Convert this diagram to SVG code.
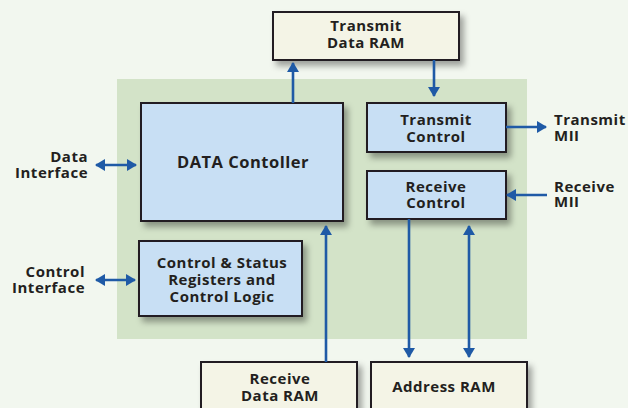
<svg xmlns="http://www.w3.org/2000/svg" width="628" height="408" viewBox="0 0 628 408">
<defs>
<style>
.bg{fill:#f2f7ef}
.panel{fill:#d3e3c8}
.blk{fill:#c8dff4;stroke:#231f20;stroke-width:2}
.ram{fill:#f4f4e6;stroke:#231f20;stroke-width:2}
.t{font-family:"Open Sans","Liberation Sans",sans-serif;font-weight:700;font-size:15px;fill:#231f20;letter-spacing:0.5px}
.c{text-anchor:middle}
.r{text-anchor:end}
.ln{stroke:#1f5aa6;stroke-width:2.6;fill:none}
.one{marker-end:url(#ah)}
.two{marker-end:url(#ah);marker-start:url(#ah)}
</style>
<marker id="ah" markerUnits="userSpaceOnUse" viewBox="0 0 10 12" refX="9" refY="6" markerWidth="10" markerHeight="12" orient="auto-start-reverse">
<path d="M0,0 L10,6 L0,12 z" fill="#1f5aa6"/>
</marker>
<filter id="sh" x="-10%" y="-10%" width="130%" height="140%">
<feDropShadow dx="4" dy="5" stdDeviation="3" flood-color="#000" flood-opacity="0.35"/>
</filter>
</defs>
<rect class="bg" x="0" y="0" width="628" height="408"/>
<rect class="panel" x="117" y="79" width="410" height="260"/>

<g id="transmit-data-ram">
<rect class="ram" x="273" y="12" width="186" height="48" filter="url(#sh)"/>
<text class="t c" x="366" y="31">Transmit</text>
<text class="t c" x="366" y="48">Data RAM</text>
</g>
<g id="data-controller">
<rect class="blk" x="141" y="103" width="202" height="118" filter="url(#sh)"/>
<text class="t c" x="243" y="168" style="font-size:16.5px">DATA Contoller</text>
</g>
<g id="transmit-control">
<rect class="blk" x="367" y="103" width="139" height="49" filter="url(#sh)"/>
<text class="t c" x="436" y="125">Transmit</text>
<text class="t c" x="436" y="142">Control</text>
</g>
<g id="receive-control">
<rect class="blk" x="367" y="171" width="139" height="48" filter="url(#sh)"/>
<text class="t c" x="436" y="192">Receive</text>
<text class="t c" x="436" y="208">Control</text>
</g>
<g id="control-status">
<rect class="blk" x="139" y="241" width="163" height="75" filter="url(#sh)"/>
<text class="t c" x="222" y="268">Control &amp; Status</text>
<text class="t c" x="222" y="285">Registers and</text>
<text class="t c" x="222" y="302">Control Logic</text>
</g>
<g id="receive-data-ram">
<rect class="ram" x="201" y="362" width="156" height="60" filter="url(#sh)"/>
<text class="t c" x="280" y="384">Receive</text>
<text class="t c" x="280" y="401">Data RAM</text>
</g>
<g id="address-ram">
<rect class="ram" x="371" y="362" width="156" height="60" filter="url(#sh)"/>
<text class="t c" x="444" y="392">Address RAM</text>
</g>
<g id="data-interface">
<text class="t r" x="88" y="162">Data</text>
<text class="t r" x="88" y="178">Interface</text>
</g>
<g id="control-interface">
<text class="t r" x="85" y="277">Control</text>
<text class="t r" x="85" y="293">Interface</text>
</g>
<g id="transmit-mii">
<text class="t" x="554" y="125">Transmit</text>
<text class="t" x="554" y="141">MII</text>
</g>
<g id="receive-mii">
<text class="t" x="554" y="192">Receive</text>
<text class="t" x="554" y="207">MII</text>
</g>

<g id="connectors">
<line class="ln one" x1="293" y1="103" x2="293" y2="63"/>
<line class="ln one" x1="434" y1="60" x2="434" y2="96"/>
<line class="ln two" x1="96" y1="165" x2="136" y2="165"/>
<line class="ln two" x1="96" y1="280" x2="135" y2="280"/>
<line class="ln one" x1="506" y1="127" x2="546" y2="127"/>
<line class="ln one" x1="547" y1="195" x2="507" y2="195"/>
<line class="ln one" x1="326" y1="362" x2="326" y2="226"/>
<line class="ln one" x1="409" y1="219" x2="409" y2="357"/>
<line class="ln two" x1="469" y1="226" x2="469" y2="357"/>
</g>
</svg>
